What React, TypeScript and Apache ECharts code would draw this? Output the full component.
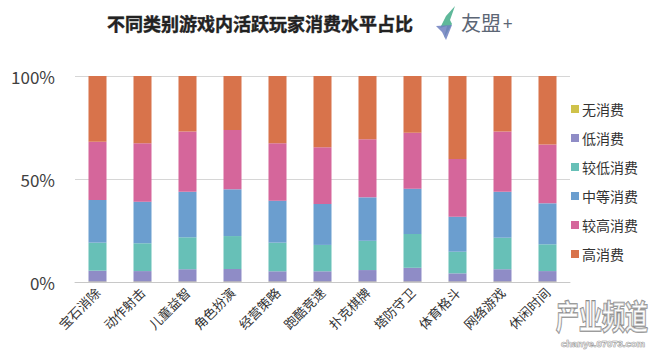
import React, { useEffect, useRef } from "react";
import * as echarts from "echarts";

const categories = ["宝石消除", "动作射击", "儿童益智", "角色扮演", "经营策略", "跑酷竞速", "扑克棋牌", "塔防守卫", "体育格斗", "网络游戏", "休闲时间"];
const seriesNames = ["无消费", "低消费", "较低消费", "中等消费", "较高消费", "高消费"];
const noSpend = [0.2, 0.2, 0.2, 0.2, 0.2, 0.2, 0.2, 0.2, 0.2, 0.2, 0.2];
const lowSpend = [5.3, 5.1, 6.0, 6.1, 5.0, 5.0, 5.6, 6.7, 4.0, 6.0, 5.1];
const lowerSpend = [13.6, 13.5, 15.5, 16.0, 13.9, 12.8, 14.2, 16.4, 10.5, 15.3, 13.0];
const midSpend = [20.7, 20.2, 22.1, 22.7, 20.4, 19.9, 21.1, 22.0, 17.0, 22.3, 19.9];
const higherSpend = [28.3, 28.3, 29.2, 28.8, 27.8, 27.5, 28.2, 27.2, 28.0, 29.2, 28.6];
const highSpend = [31.9, 32.7, 27.0, 26.2, 32.7, 34.6, 30.7, 27.5, 40.3, 27.0, 33.2];
const yTicks = ["0%", "50%", "100%"];
const colors = ["#cfc24a", "#8f8cc6", "#67c0b7", "#6b9ecf", "#d5669b", "#d8734b"];

export default function App() {
  const ref = useRef<HTMLDivElement>(null);
  useEffect(() => {
    document.body.style.margin = "0";
    if (!ref.current) return;
    const chart = echarts.init(ref.current, null, { renderer: "svg" });
    const dataSets = [noSpend, lowSpend, lowerSpend, midSpend, higherSpend, highSpend];
    chart.setOption({
      animation: false,
      backgroundColor: "#ffffff",
      textStyle: { fontFamily: "Noto Sans CJK SC" },
      grid: { left: 75, right: 80, top: 76, bottom: 72, containLabel: false },
      legend: {
        orient: "vertical",
        left: 566,
        top: 97,
        itemWidth: 8,
        itemHeight: 8,
        itemGap: 15,
        icon: "rect",
        data: seriesNames,
        textStyle: { fontSize: 14, color: "#333333", padding: [0, 0, 0, -2] },
      },
      xAxis: {
        type: "category",
        data: categories,
        axisLine: { lineStyle: { color: "#c8c8c8" } },
        axisTick: { show: false },
        axisLabel: { rotate: 45, fontSize: 13, color: "#333333", margin: 8, interval: 0 },
      },
      yAxis: {
        type: "value",
        min: 0,
        max: 100,
        interval: 50,
        axisLabel: {
          fontSize: 17,
          color: "#404040",
          margin: 20,
          formatter: (v: number) => yTicks[Math.round(v / 50)],
        },
        axisLine: { show: false },
        axisTick: { show: false },
        splitLine: { lineStyle: { color: "#d6d6d6" } },
      },
      series: seriesNames.map((name, i) => ({
        name,
        type: "bar",
        stack: "total",
        barWidth: "40%",
        data: dataSets[i],
        itemStyle: { color: colors[i] },
      })),
      graphic: [
        {
          type: "text",
          x: 107,
          y: 14,
          style: {
            text: "不同类别游戏内活跃玩家消费水平占比",
            font: "bold 18px 'Noto Sans CJK SC'",
            fill: "#222222",
            stroke: "#222222",
            lineWidth: 0.4,
          },
        },
        {
          type: "polygon",
          shape: { points: [[455, 6], [446, 16], [440, 28], [447, 26], [444, 38], [452, 24], [450, 20]] },
          style: { fill: "#5fb89a" },
        },
        {
          type: "polygon",
          shape: { points: [[436, 26], [452, 25], [446, 40], [442, 32]] },
          style: { fill: "#6f7fc0", opacity: 0.85 },
        },
        {
          type: "text",
          x: 461,
          y: 12,
          style: { text: "友盟", font: "20px 'Noto Sans CJK SC'", fill: "#5c6675" },
        },
        {
          type: "text",
          x: 503,
          y: 14,
          style: { text: "+", font: "17px 'Noto Sans CJK SC'", fill: "#5c6675" },
        },
        {
          type: "text",
          x: 556,
          y: 298,
          scaleY: 1.45,
          style: {
            text: "产业频道",
            font: "bold 23px 'Noto Sans CJK SC'",
            fill: "rgba(255,255,255,0.55)",
            stroke: "#8a8a8a",
            lineWidth: 1.2,
          },
        },
        {
          type: "text",
          x: 561,
          y: 338,
          style: {
            text: "chanye.07073.com",
            font: "bold 9.5px 'Liberation Sans'",
            fill: "rgba(255,255,255,0.55)",
            stroke: "#8a8a8a",
            lineWidth: 0.7,
          },
        },
      ],
    });
    return () => chart.dispose();
  }, []);
  return <div ref={ref} style={{ width: 650, height: 354 }} />;
}
